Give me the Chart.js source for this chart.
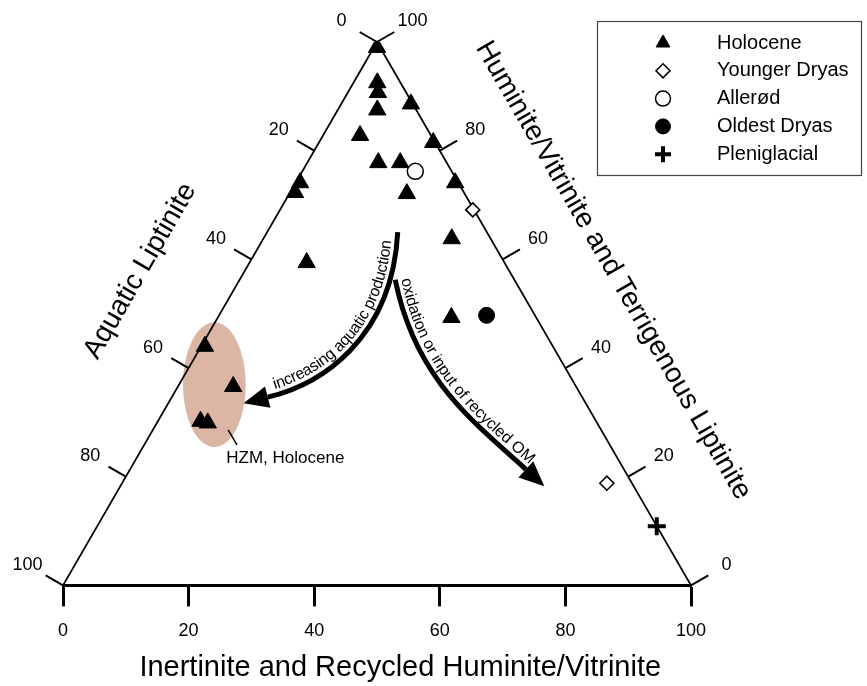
<!DOCTYPE html>
<html>
<head>
<meta charset="utf-8">
<title>Ternary diagram</title>
<script src="https://cdn.jsdelivr.net/npm/chart.js@4.4.1/dist/chart.umd.min.js"></script>
<style>
  body { margin: 0; background: #fff; }
  canvas { display: block; }
</style>
</head>
<body>
<canvas id="ternary" width="867" height="686"></canvas>
<script>
const FONT = '"Liberation Sans", Arial, Helvetica, sans-serif';
const H = Math.sqrt(3) / 2;

// composition in % : [aquatic liptinite, huminite/vitrinite, inertinite]
const holocene = [
  [0.5, 99.0, 0.5],
  [3.7, 92.5, 3.8],
  [4.5, 90.7, 4.8],
  [6.2, 87.5, 6.3],
  [0.3, 88.6, 11.1],
  [0.3, 81.5, 18.2],
  [11.3, 82.8, 5.9],
  [10.9, 77.8, 11.3],
  [7.4, 77.8, 14.8],
  [9.2, 72.1, 18.7],
  [0.5, 74.1, 25.4],
  [26.9, 72.3, 0.8],
  [25.2, 74.1, 0.7],
  [31.5, 59.4, 9.1],
  [6.2, 63.8, 30.0],
  [13.5, 49.3, 37.2],
  [55.4, 44.0, 0.6],
  [54.6, 36.6, 8.8],
  [63.0, 30.2, 6.8],
  [62.0, 29.9, 8.1]
];
const youngerDryas = [[0.2, 69.1, 30.7], [4.0, 18.8, 77.2]];
const allerod = [[5.8, 76.2, 18.0]];
const oldestDryas = [[7.7, 49.7, 42.6]];
const pleniglacial = [[0.0, 10.9, 89.1]];

const seriesNames = ['Holocene', 'Younger Dryas', 'Allerød', 'Oldest Dryas', 'Pleniglacial'];
const bottomTicks = [0, 20, 40, 60, 80, 100];
const sideTicks = [0, 20, 40, 60, 80, 100];

// annotation curves (x/y in plot units)
const arrowAquatic = [[53.3, 56.3], [52.4, 39.1], [40.9, 32.0], [32.6, 30.0]];
const arrowOxid = [[52.9, 48.7], [56.1, 32.8], [65.5, 26.0], [73.7, 18.5]];

function toXY(c){
  // inertinite runs along the base, huminite up to the apex
  return { x: c[2] + c[1] / 2, y: c[1] * H };
}

function bez(p, t){
  const u = 1 - t;
  return {
    x: u*u*u*p[0].x + 3*u*u*t*p[1].x + 3*u*t*t*p[2].x + t*t*t*p[3].x,
    y: u*u*u*p[0].y + 3*u*u*t*p[1].y + 3*u*t*t*p[2].y + t*t*t*p[3].y
  };
}

function samplePath(p){
  const pts = [];
  let len = 0;
  for(let i = 0; i <= 200; i++){
    const q = bez(p, i / 200);
    if(i) len += Math.hypot(q.x - pts[i-1].x, q.y - pts[i-1].y);
    q.s = len;
    pts.push(q);
  }
  return pts;
}

function atLength(pts, s){
  let i = 1;
  while(i < pts.length - 1 && pts[i].s < s) i++;
  const a = pts[i-1], b = pts[i];
  const f = (s - a.s) / ((b.s - a.s) || 1);
  return { x: a.x + (b.x - a.x) * f, y: a.y + (b.y - a.y) * f, a: Math.atan2(b.y - a.y, b.x - a.x) };
}

function textOnPath(ctx, pts, text, offset){
  const total = pts[pts.length - 1].s;
  const w = ctx.measureText(text).width;
  let s = (total - w) / 2;
  for(const ch of text){
    const cw = ctx.measureText(ch).width;
    const p = atLength(pts, s + cw / 2);
    ctx.save();
    ctx.translate(p.x, p.y);
    ctx.rotate(p.a);
    ctx.fillText(ch, 0, -offset);
    ctx.restore();
    s += cw;
  }
}

function drawArrow(ctx, chart, curve, label, reversed){
  const xs = chart.scales.x, ys = chart.scales.y;
  const p = curve.map(c => ({ x: xs.getPixelForValue(c[0]), y: ys.getPixelForValue(c[1]) }));
  const pts = samplePath(p);
  ctx.strokeStyle = '#000';
  ctx.lineWidth = 5;
  ctx.lineCap = 'butt';
  ctx.beginPath();
  ctx.moveTo(p[0].x, p[0].y);
  ctx.bezierCurveTo(p[1].x, p[1].y, p[2].x, p[2].y, p[3].x, p[3].y);
  ctx.stroke();

  const end = pts[pts.length - 1], prev = pts[pts.length - 6];
  const d = Math.hypot(end.x - prev.x, end.y - prev.y);
  const ux = (end.x - prev.x) / d, uy = (end.y - prev.y) / d;
  ctx.fillStyle = '#000';
  ctx.beginPath();
  ctx.moveTo(end.x + ux * 25, end.y + uy * 25);
  ctx.lineTo(end.x - uy * 11, end.y + ux * 11);
  ctx.lineTo(end.x + uy * 11, end.y - ux * 11);
  ctx.closePath();
  ctx.fill();

  ctx.font = '16px ' + FONT;
  ctx.textAlign = 'center';
  ctx.textBaseline = 'alphabetic';
  const path = reversed ? pts.slice().reverse().map(q => ({ x: q.x, y: q.y, s: end.s - q.s })) : pts;
  textOnPath(ctx, path, label, 6);
}

const ternaryFrame = {
  id: 'ternaryFrame',
  beforeDatasetsDraw(chart){
    const ctx = chart.ctx;
    const xs = chart.scales.x, ys = chart.scales.y;
    const px = v => xs.getPixelForValue(v);
    const py = v => ys.getPixelForValue(v);

    ctx.save();

    // HZM field
    const cx = px(24.1), cy = py(32.0);
    ctx.fillStyle = '#dbb6a5';
    ctx.beginPath();
    ctx.ellipse(cx, cy, px(24.1 + 5.0) - cx, cy - py(32.0 + 9.95), 0, 0, Math.PI * 2);
    ctx.fill();

    // side edges
    ctx.strokeStyle = '#000';
    ctx.lineWidth = 1.8;
    ctx.beginPath();
    ctx.moveTo(px(0), py(0));
    ctx.lineTo(px(50), py(100 * H));
    ctx.lineTo(px(100), py(0));
    ctx.stroke();

    // side ticks and labels
    ctx.font = '18px ' + FONT;
    ctx.fillStyle = '#000';
    ctx.textAlign = 'center';
    ctx.textBaseline = 'middle';
    ctx.lineWidth = 2;
    for(const v of sideTicks){
      // aquatic liptinite on the left side, 0 at the apex
      const hl = 100 - v;
      const lx = px(hl / 2), ly = py(hl * H);
      ctx.beginPath();
      ctx.moveTo(lx, ly);
      ctx.lineTo(lx - 0.866 * 20, ly - 0.5 * 20);
      ctx.stroke();
      ctx.fillText(String(v), lx - 0.866 * 41, ly - 0.5 * 41);
      // huminite on the right side, 100 at the apex
      const rx = px(100 - v / 2), ry = py(v * H);
      ctx.beginPath();
      ctx.moveTo(rx, ry);
      ctx.lineTo(rx + 0.866 * 20, ry - 0.5 * 20);
      ctx.stroke();
      ctx.fillText(String(v), rx + 0.866 * 41, ry - 0.5 * 41);
    }

    // axis titles
    ctx.font = '28px ' + FONT;
    ctx.save();
    ctx.translate(px(12.3), py(50.1));
    ctx.rotate(-Math.PI / 3);
    ctx.fillText('Aquatic Liptinite', 0, 0);
    ctx.restore();
    ctx.save();
    ctx.translate(px(87.6), py(50.2));
    ctx.rotate(Math.PI / 3);
    ctx.fillText('Huminite/Vitrinite and Terrigenous Liptinite', 0, 0);
    ctx.restore();
    ctx.font = '29px ' + FONT;
    ctx.fillText('Inertinite and Recycled Huminite/Vitrinite', px(53.7), chart.chartArea.bottom + 83);

    // HZM label
    ctx.lineWidth = 1.5;
    ctx.beginPath();
    ctx.moveTo(px(26.3), py(24.8));
    ctx.lineTo(px(27.7), py(22.4));
    ctx.stroke();
    ctx.font = '17px ' + FONT;
    ctx.fillText('HZM, Holocene', px(35.4), py(20.2));

    // process arrows
    drawArrow(ctx, chart, arrowAquatic, 'increasing aquatic production', true);
    drawArrow(ctx, chart, arrowOxid, 'oxidation or input of recycled OM', false);

    ctx.restore();
  },
  afterDatasetsDraw(chart){
    const ctx = chart.ctx;
    ctx.save();
    ctx.strokeStyle = '#444';
    ctx.lineWidth = 1.2;
    ctx.strokeRect(597.5, 21.5, 264, 154);
    ctx.font = '20px ' + FONT;
    ctx.textAlign = 'left';
    ctx.textBaseline = 'middle';
    chart.data.datasets.forEach(function(ds, i){
      const y = 43 + i * 27.8;
      ctx.fillStyle = ds.backgroundColor;
      ctx.strokeStyle = ds.borderColor;
      ctx.lineWidth = ds.borderWidth;
      Chart.helpers.drawPoint(ctx, {
        pointStyle: ds.pointStyle,
        radius: ds.legendRadius,
        borderWidth: ds.borderWidth,
        rotation: 0
      }, 663, y);
      ctx.fillStyle = '#000';
      ctx.fillText(ds.label, 717, y);
    });
    ctx.restore();
  }
};

const ctx = document.getElementById('ternary').getContext('2d');
// eslint-disable-next-line no-undef
const chart = new Chart(ctx, {
  type: 'scatter',
  data: {
    datasets: [{
      label: seriesNames[0],
      data: holocene.map(toXY),
      pointStyle: 'triangle',
      pointRadius: 10,
      legendRadius: 8,
      backgroundColor: '#000',
      borderColor: '#000',
      borderWidth: 1
    },
    {
      label: seriesNames[1],
      data: youngerDryas.map(toXY),
      pointStyle: 'rectRot',
      pointRadius: 7,
      legendRadius: 7,
      backgroundColor: '#fff',
      borderColor: '#000',
      borderWidth: 1.6
    },
    {
      label: seriesNames[2],
      data: allerod.map(toXY),
      pointStyle: 'circle',
      pointRadius: 8,
      legendRadius: 7.5,
      backgroundColor: '#fff',
      borderColor: '#000',
      borderWidth: 1.5
    },
    {
      label: seriesNames[3],
      data: oldestDryas.map(toXY),
      pointStyle: 'circle',
      pointRadius: 8,
      legendRadius: 7.5,
      backgroundColor: '#000',
      borderColor: '#000',
      borderWidth: 1
    },
    {
      label: seriesNames[4],
      data: pleniglacial.map(toXY),
      pointStyle: 'cross',
      pointRadius: 9,
      legendRadius: 8,
      backgroundColor: '#000',
      borderColor: '#000',
      borderWidth: 4
    }]
  },
  options: {
    responsive: false,
    animation: false,
    layout: { padding: { left: 63, right: 176, top: 42, bottom: 30 } },
    plugins: {
      legend: { display: false },
      tooltip: { enabled: false }
    },
    scales: {
      x: {
        type: 'linear',
        min: 0,
        max: 100,
        afterBuildTicks: function(scale){
          scale.ticks = bottomTicks.map(v => ({ value: v }));
        },
        ticks: { color: '#000', padding: 14, font: { family: FONT, size: 18 } },
        grid: { drawOnChartArea: false, drawTicks: true, tickLength: 21, tickWidth: 3, tickColor: '#000' },
        border: { display: true, width: 3, color: '#000' }
      },
      y: {
        type: 'linear',
        min: 0,
        max: 100 * H,
        display: false
      }
    }
  },
  plugins: [ternaryFrame]
});
</script>
</body>
</html>
